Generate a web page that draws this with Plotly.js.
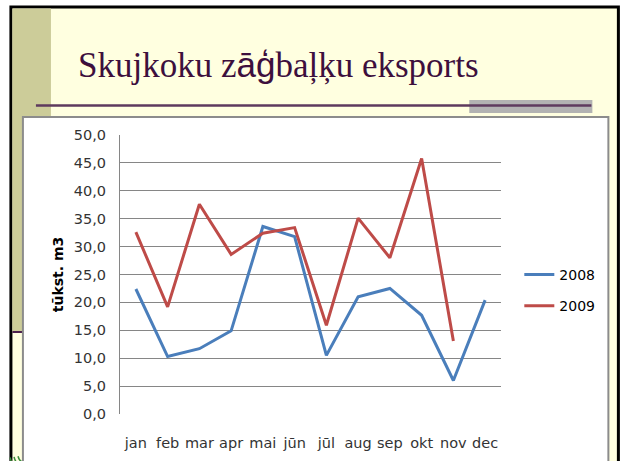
<!DOCTYPE html>
<html>
<head>
<meta charset="utf-8">
<script src="https://cdn.plot.ly/plotly-3.0.1.min.js"></script>
<style>html,body{margin:0;padding:0;background:#fff;}#chart{width:620px;height:461px;}</style>
</head>
<body>
<div id="chart"></div>
<script>
const months = ['jan','feb','mar','apr','mai','jūn','jūl','aug','sep','okt','nov','dec'];
const series2008 = [22.4,10.3,11.7,14.9,33.6,31.8,10.5,21.0,22.5,17.7,6.0,20.4];
const series2009 = [32.6,19.2,37.6,28.6,32.4,33.4,15.9,35.1,28.0,45.8,13.1,null];
const seriesNames = ['2008','2009'];
const titleText = 'Skujkoku z<span style="font-family:\'Liberation Sans\'">āģ</span>baļķu eksports';
const yTitle = 'tūkst. m3';

// page geometry (pixels) -> paper coords
const W = 620, H = 461, L = 120, R = 500.7, T = 135, B = 414;
const px = v => (v - L) / (R - L);
const py = v => (B - v) / (B - T);

function rect(x0,y0,x1,y1,fill,lineColor,lineWidth){
  return {type:'rect',xref:'paper',yref:'paper',layer:'below',
    x0:px(x0),x1:px(x1),y0:py(y0),y1:py(y1),
    fillcolor:fill,line:{color:lineColor||'rgba(0,0,0,0)',width:lineWidth||0}};
}
function hline(x0,x1,y,color,width){
  return {type:'line',xref:'paper',yref:'paper',layer:'below',
    x0:px(x0),x1:px(x1),y0:py(y),y1:py(y),line:{color:color,width:width}};
}
function arc(cx,cy,r){
  const a0 = Math.PI*1.05, a1 = Math.PI*1.45;
  const x0 = cx + r*Math.cos(a0), y0 = cy - r*Math.sin(a0);
  const xm = cx + r*Math.cos((a0+a1)/2), ym = cy - r*Math.sin((a0+a1)/2);
  const x1 = cx + r*Math.cos(a1), y1 = cy - r*Math.sin(a1);
  return {type:'path',xref:'paper',yref:'paper',layer:'below',
    path:`M${px(x0)},${py(y0)} Q${px(2*xm-(x0+x1)/2)},${py(2*ym-(y0+y1)/2)} ${px(x1)},${py(y1)}`,
    line:{color:'#3c8c3c',width:1.5}};
}

const shapes = [
  rect(11,7,618,490,'#ffffe0','#000000',3),
  rect(12.5,8.5,51,332,'#cccc99'),
  hline(12.5,51,332,'#4b1f4b',2),
  rect(469,100,592,113,'#b2b2b2'),
  hline(36,591,105.5,'#5e3a5e',2.5),
  rect(23,117,608,480,'#ffffff','#8c8c8c',2),
  arc(26,455,8), arc(26,455,12), arc(26,455,16)
];

const traces = [
  {x:months,y:series2008,name:seriesNames[0],type:'scatter',mode:'lines',
   line:{color:'#4a7ebb',width:3},legendgroup:'a'},
  {x:months,y:series2009,name:seriesNames[1],type:'scatter',mode:'lines',
   line:{color:'#be4b48',width:3},legendgroup:'b',connectgaps:false}
];

const tickFont = {family:'DejaVu Sans',size:14.5,color:'#333333'};

const layout = {
  width:W,height:H,
  margin:{l:L,r:W-R,t:T,b:H-B,pad:0},
  paper_bgcolor:'#ffffff',plot_bgcolor:'rgba(0,0,0,0)',
  separators:', ',
  font:{family:'DejaVu Sans',size:14,color:'#333333'},
  title:{text:titleText,x:78/W,xref:'container',xanchor:'left',
    y:1-65/H,yref:'container',yanchor:'middle',
    font:{family:'Liberation Serif',size:35,color:'#3d0f3d'}},
  xaxis:{type:'category',categoryorder:'array',categoryarray:months,
    range:[-0.5,11.5],showgrid:false,zeroline:false,showline:false,
    ticks:'outside',ticklen:16,tickcolor:'rgba(0,0,0,0)',
    tickfont:tickFont,fixedrange:true},
  yaxis:{range:[0,50],dtick:5,tick0:0,tickformat:'.1f',
    showgrid:true,gridcolor:'#868686',gridwidth:1,zeroline:false,
    showline:true,linecolor:'#868686',linewidth:1,
    ticks:'outside',ticklen:10,tickcolor:'rgba(0,0,0,0)',
    tickfont:tickFont,
    title:{text:yTitle,standoff:6,font:{family:'DejaVu Sans',size:14,color:'#000000',weight:'bold'}},
    automargin:false,fixedrange:true},
  showlegend:true,
  legend:{x:px(519),y:py(259),xanchor:'left',yanchor:'top',
    bgcolor:'rgba(0,0,0,0)',borderwidth:0,tracegroupgap:10,traceorder:'grouped',
    font:{family:'DejaVu Sans',size:14,color:'#000000'}},
  shapes:shapes
};

Plotly.newPlot('chart',traces,layout,{staticPlot:true,displayModeBar:false});
</script>
</body>
</html>
